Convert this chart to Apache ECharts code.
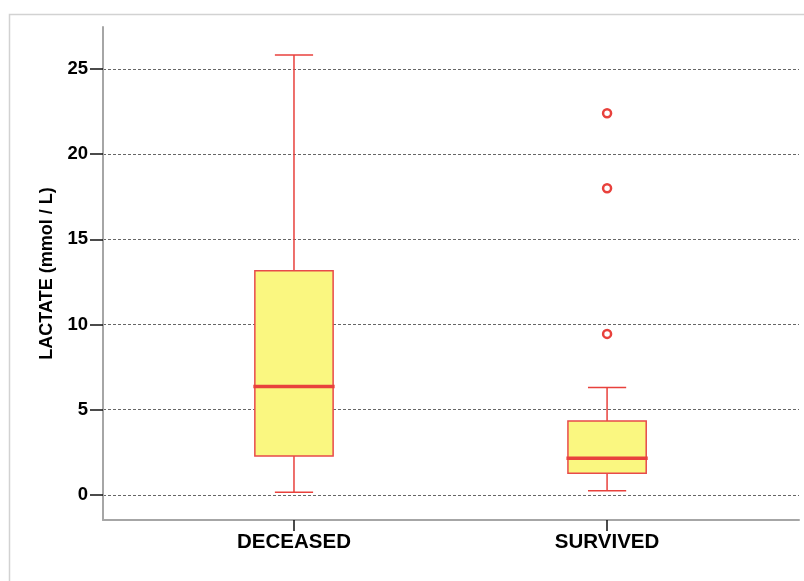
<!DOCTYPE html>
<html><head><meta charset="utf-8">
<script src="https://cdn.jsdelivr.net/npm/echarts@6/dist/echarts.min.js"></script>
<style>html,body{margin:0;padding:0;background:#fff}#c{width:804px;height:581px}</style>
</head><body><div id="c"></div>
<script>
const categories = ['DECEASED', 'SURVIVED'];
// whisker low, Q1, median, Q3, whisker high
const whiskerLow = [0.16, 0.25];
const q1Values = [2.29, 1.27];
const medianValues = [6.36, 2.15];
const q3Values = [13.15, 4.34];
const whiskerHigh = [25.82, 6.30];
const outlierValues = [[], [22.4, 18.0, 9.45]];
const yTicks = [0, 5, 10, 15, 20, 25];
const yTitle = 'LACTATE (mmol / L)';

const RED = '#e8413c';
const BOXRED = '#e84a4a';
const YELLOW = '#faf780';
const FONT = '"Liberation Sans", Arial, sans-serif';

const boxData = categories.map((c, i) => [i + 1, whiskerLow[i], q1Values[i], medianValues[i], q3Values[i], whiskerHigh[i]]);
const outlierData = [];
outlierValues.forEach((arr, i) => arr.forEach(v => outlierData.push([i + 1, v])));

const chart = echarts.init(document.getElementById('c'), null, {renderer: 'canvas'});
chart.setOption({
  animation: false,
  backgroundColor: '#fff',
  graphic: [{
    type: 'rect', left: 7, top: 12, z: -10,
    shape: {width: 900, height: 700},
    style: {fill: 'none', stroke: '#d2d2d2', lineWidth: 1.5}
  }],
  grid: {left: 103, right: 5, top: 27, bottom: 61, containLabel: false, outerBoundsMode: 'none'},
  xAxis: {
    type: 'value', min: 0.39, max: 2.613,
    axisLine: {show: true, onZero: false, lineStyle: {color: '#a6a6a6', width: 2}},
    splitLine: {show: false},
    axisTick: {show: true, customValues: [1, 2], length: 11, lineStyle: {color: '#111', width: 1.5}},
    axisLabel: {
      customValues: [1, 2],
      formatter: v => categories[Math.round(v) - 1] || '',
      fontFamily: FONT, fontWeight: 'bold', fontSize: 20.5, color: '#000', margin: 12
    }
  },
  yAxis: {
    type: 'value', min: -1.47, max: 27.46,
    name: yTitle, nameLocation: 'middle', nameGap: 46, nameRotate: 90,
    nameTextStyle: {fontFamily: FONT, fontWeight: 'bold', fontSize: 18, color: '#000'},
    axisLine: {show: true, onZero: false, lineStyle: {color: '#a6a6a6', width: 2}},
    axisTick: {show: true, customValues: yTicks, length: 13, lineStyle: {color: '#111', width: 1.5}},
    axisLabel: {customValues: yTicks, fontFamily: FONT, fontWeight: 'bold', fontSize: 18.5, color: '#000', margin: 15},
    splitLine: {show: true, lineStyle: {type: [3, 2], color: '#666', width: 1}}
  },
  series: [{
    type: 'custom',
    data: boxData,
    encode: {x: 0, y: [1, 2, 3, 4, 5]},
    renderItem: function (params, api) {
      const x = api.value(0);
      const lo = api.coord([x, api.value(1)]);
      const q1 = api.coord([x, api.value(2)]);
      const med = api.coord([x, api.value(3)]);
      const q3 = api.coord([x, api.value(4)]);
      const hi = api.coord([x, api.value(5)]);
      const unit = api.size([1, 0])[0];
      const bw = unit * 0.25;
      const cw = unit * 0.122;
      const cx = lo[0];
      const ws = {stroke: RED, lineWidth: 1.5};
      return {
        type: 'group',
        children: [
          {type: 'line', shape: {x1: cx, y1: hi[1], x2: cx, y2: q3[1]}, style: ws},
          {type: 'line', shape: {x1: cx, y1: q1[1], x2: cx, y2: lo[1]}, style: ws},
          {type: 'line', shape: {x1: cx - cw / 2, y1: hi[1], x2: cx + cw / 2, y2: hi[1]}, style: ws},
          {type: 'line', shape: {x1: cx - cw / 2, y1: lo[1], x2: cx + cw / 2, y2: lo[1]}, style: ws},
          {type: 'rect', shape: {x: cx - bw / 2, y: q3[1], width: bw, height: q1[1] - q3[1]},
            style: {fill: YELLOW, stroke: BOXRED, lineWidth: 1.5}},
          {type: 'line', shape: {x1: cx - bw / 2 - 1.5, y1: med[1], x2: cx + bw / 2 + 1.5, y2: med[1]},
            style: {stroke: RED, lineWidth: 3.5}}
        ]
      };
    }
  }, {
    type: 'scatter',
    data: outlierData,
    symbol: 'circle',
    symbolSize: 8,
    itemStyle: {color: '#fff', borderColor: RED, borderWidth: 2.5, opacity: 1}
  }]
});
</script>
</body></html>
